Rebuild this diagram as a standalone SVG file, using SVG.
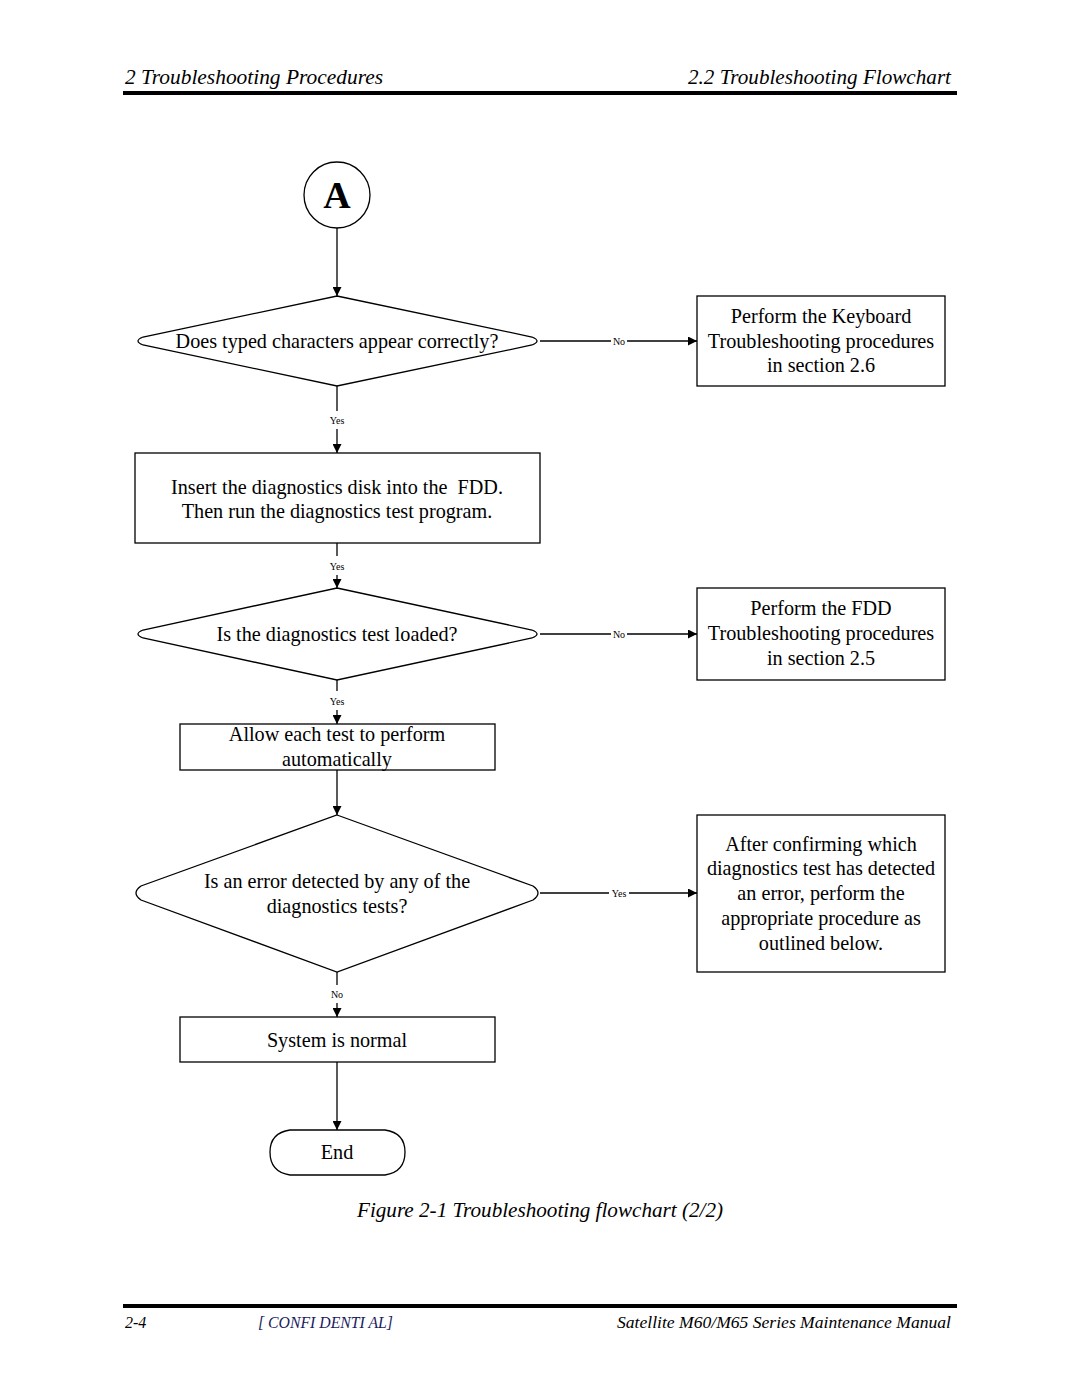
<svg xmlns="http://www.w3.org/2000/svg" width="1080" height="1397" viewBox="0 0 1080 1397">
<defs>
<marker id="arr" viewBox="0 0 10 10" refX="10" refY="5" markerWidth="9" markerHeight="9" markerUnits="userSpaceOnUse" orient="auto">
<path d="M0,0 L10,5 L0,10 Z" fill="#000"/>
</marker>
</defs>
<style>
.s{fill:#fff;stroke:#000;stroke-width:1.3}
.t{font-family:"Liberation Serif","Times New Roman",serif;font-size:20.2px;fill:#000;text-anchor:middle}
.l{font-family:"Liberation Serif","Times New Roman",serif;font-size:10px;fill:#000;text-anchor:middle}
.c{stroke:#000;stroke-width:1.3;fill:none}
.h{font-family:"Liberation Serif","Times New Roman",serif;font-style:italic;fill:#000}
</style>
<rect width="1080" height="1397" fill="#fff"/>
<g id="header">
<text class="h" x="125" y="84" font-size="21" textLength="258" lengthAdjust="spacingAndGlyphs">2 Troubleshooting Procedures</text>
<text class="h" x="951" y="84" font-size="21" text-anchor="end" textLength="263" lengthAdjust="spacingAndGlyphs">2.2 Troubleshooting Flowchart</text>
<rect x="123" y="91" width="834" height="4" fill="#000"/>
</g>
<g id="connectors">
<line class="c" x1="337" y1="228" x2="337" y2="296" marker-end="url(#arr)"/>
<line class="c" x1="540" y1="341" x2="611" y2="341"/>
<text class="l" x="619" y="345">No</text>
<line class="c" x1="627" y1="341" x2="697" y2="341" marker-end="url(#arr)"/>
<line class="c" x1="337" y1="386" x2="337" y2="411"/>
<text class="l" x="337" y="424">Yes</text>
<line class="c" x1="337" y1="429" x2="337" y2="453" marker-end="url(#arr)"/>
<line class="c" x1="337" y1="543" x2="337" y2="556"/>
<text class="l" x="337" y="570">Yes</text>
<line class="c" x1="337" y1="575" x2="337" y2="588" marker-end="url(#arr)"/>
<line class="c" x1="540" y1="634" x2="611" y2="634"/>
<text class="l" x="619" y="638">No</text>
<line class="c" x1="627" y1="634" x2="697" y2="634" marker-end="url(#arr)"/>
<line class="c" x1="337" y1="680" x2="337" y2="691"/>
<text class="l" x="337" y="705">Yes</text>
<line class="c" x1="337" y1="710" x2="337" y2="724" marker-end="url(#arr)"/>
<line class="c" x1="337" y1="770" x2="337" y2="815" marker-end="url(#arr)"/>
<line class="c" x1="540" y1="893" x2="609" y2="893"/>
<text class="l" x="619" y="897">Yes</text>
<line class="c" x1="629" y1="893" x2="697" y2="893" marker-end="url(#arr)"/>
<line class="c" x1="337" y1="972" x2="337" y2="985"/>
<text class="l" x="337" y="998">No</text>
<line class="c" x1="337" y1="1003" x2="337" y2="1017" marker-end="url(#arr)"/>
<line class="c" x1="337" y1="1062" x2="337" y2="1130" marker-end="url(#arr)"/>
</g>
<g id="startA">
<circle class="s" cx="337" cy="195" r="33"/>
<text class="t" x="337" y="208" style="font-size:38px;font-weight:bold">A</text>
</g>
<g id="d1">
<path class="s" d="M337,296 L532,337 Q542,341 532,345 L337,386 L143,345 Q133,341 143,337 Z"/>
<text class="t" x="337" y="348">Does typed characters appear correctly?</text>
</g>
<g id="b1">
<rect class="s" x="697" y="296" width="248" height="90"/>
<text class="t" x="821" y="323">Perform the Keyboard</text>
<text class="t" x="821" y="348">Troubleshooting procedures</text>
<text class="t" x="821" y="372">in section 2.6</text>
</g>
<g id="b2">
<rect class="s" x="135" y="453" width="405" height="90"/>
<text class="t" x="337" y="494" xml:space="preserve">Insert the diagnostics disk into the  FDD.</text>
<text class="t" x="337" y="518">Then run the diagnostics test program.</text>
</g>
<g id="d2">
<path class="s" d="M337,588 L532,630 Q542,634 532,638 L337,680 L143,638 Q133,634 143,630 Z"/>
<text class="t" x="337" y="641">Is the diagnostics test loaded?</text>
</g>
<g id="b3">
<rect class="s" x="697" y="588" width="248" height="92"/>
<text class="t" x="821" y="615">Perform the FDD</text>
<text class="t" x="821" y="640">Troubleshooting procedures</text>
<text class="t" x="821" y="665">in section 2.5</text>
</g>
<g id="b4">
<rect class="s" x="180" y="724" width="315" height="46"/>
<text class="t" x="337" y="741">Allow each test to perform</text>
<text class="t" x="337" y="766">automatically</text>
</g>
<g id="d3">
<path class="s" d="M337,815 L533,886 Q543,893 533,900 L337,972 L141,900 Q131,893 141,886 Z"/>
<text class="t" x="337" y="888">Is an error detected by any of the</text>
<text class="t" x="337" y="913">diagnostics tests?</text>
</g>
<g id="b5">
<rect class="s" x="697" y="815" width="248" height="157"/>
<text class="t" x="821" y="851">After confirming which</text>
<text class="t" x="821" y="875">diagnostics test has detected</text>
<text class="t" x="821" y="900">an error, perform the</text>
<text class="t" x="821" y="925">appropriate procedure as</text>
<text class="t" x="821" y="950">outlined below.</text>
</g>
<g id="b6">
<rect class="s" x="180" y="1017" width="315" height="45"/>
<text class="t" x="337" y="1047">System is normal</text>
</g>
<g id="end">
<path class="s" d="M290,1130 L385,1130 Q405,1133 405,1152 Q405,1172 385,1175 L290,1175 Q270,1172 270,1152 Q270,1133 290,1130 Z"/>
<text class="t" x="337" y="1159">End</text>
</g>
<g id="caption">
<text class="h" x="540" y="1217" font-size="20.5" text-anchor="middle" textLength="366" lengthAdjust="spacingAndGlyphs">Figure 2-1 Troubleshooting flowchart (2/2)</text>
</g>
<g id="footer">
<rect x="123" y="1304" width="834" height="4" fill="#000"/>
<text class="h" x="125" y="1328" font-size="16">2-4</text>
<text class="h" x="258" y="1328" font-size="17" style="fill:#1a1a5e" textLength="135" lengthAdjust="spacingAndGlyphs">[ CONFI DENTI AL]</text>
<text class="h" x="951" y="1328" font-size="16" text-anchor="end" textLength="334" lengthAdjust="spacingAndGlyphs">Satellite M60/M65 Series Maintenance Manual</text>
</g>
</svg>
